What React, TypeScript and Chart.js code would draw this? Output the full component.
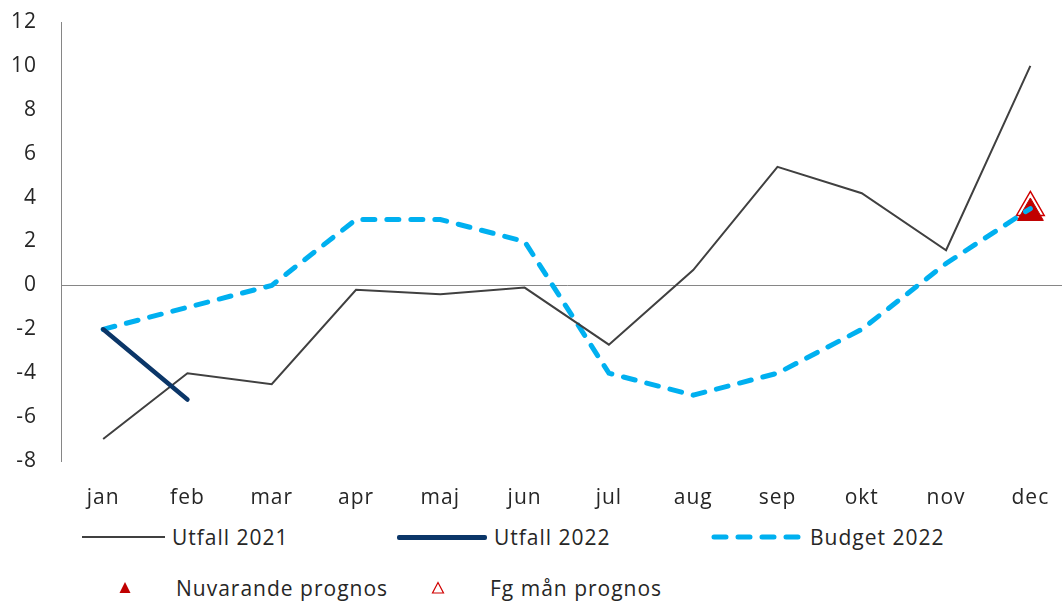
import React, { useEffect, useRef } from "react";
import { Chart, registerables } from "chart.js";

Chart.register(...registerables);

const months = ["jan", "feb", "mar", "apr", "maj", "jun", "jul", "aug", "sep", "okt", "nov", "dec"];
const utfall2021 = [-7, -4, -4.5, -0.2, -0.4, -0.1, -2.7, 0.7, 5.4, 4.2, 1.6, 10];
const utfall2022 = [-2, -5.2, null, null, null, null, null, null, null, null, null, null];
const budget2022 = [-2, -1, 0, 3, 3, 2, -4, -5, -4, -2, 1, 3.5];
const nuvarandePrognos = [null, null, null, null, null, null, null, null, null, null, null, 3.3];
const fgManPrognos = [null, null, null, null, null, null, null, null, null, null, null, 3.55];
const yMin = -8;
const yMax = 12;
const yStep = 2;

const FONT = "'Open Sans', Lato, sans-serif";
const FSIZE = 21;
const LSP = "1px";
const TEXT = "#262626";
const AXIS = "#868686";

const spacingPlugin = {
  id: "letterSpacing",
  beforeInit(chart: any) {
    chart.ctx.letterSpacing = LSP;
  },
  beforeUpdate(chart: any) {
    chart.ctx.letterSpacing = LSP;
  },
  beforeDraw(chart: any) {
    chart.ctx.letterSpacing = LSP;
  },
};

export default function App() {
  const ref = useRef<HTMLCanvasElement | null>(null);

  useEffect(() => {
    if (!ref.current) return;
    const chart = new Chart(ref.current, {
      type: "line",
      plugins: [spacingPlugin],
      data: {
        labels: months,
        datasets: [
          {
            label: "Fg mån prognos",
            data: fgManPrognos,
            showLine: false,
            pointStyle: "triangle",
            pointRadius: 16,
            pointBackgroundColor: "#ffffff",
            pointBorderColor: "#d00000",
            pointBorderWidth: 1.5,
            order: 5,
          },
          {
            label: "Nuvarande prognos",
            data: nuvarandePrognos,
            showLine: false,
            pointStyle: "triangle",
            pointRadius: 15,
            pointBackgroundColor: "#c00000",
            pointBorderColor: "#c00000",
            pointBorderWidth: 1,
            order: 4,
          },
          {
            label: "Budget 2022",
            data: budget2022,
            borderColor: "#00b0f0",
            borderWidth: 5,
            borderDash: [12, 12],
            borderCapStyle: "round",
            pointRadius: 0,
            tension: 0,
            order: 3,
          },
          {
            label: "Utfall 2021",
            data: utfall2021,
            borderColor: "#404040",
            borderWidth: 2,
            pointRadius: 0,
            tension: 0,
            order: 2,
          },
          {
            label: "Utfall 2022",
            data: utfall2022,
            borderColor: "#0b3668",
            borderWidth: 4.5,
            borderCapStyle: "round",
            pointRadius: 0,
            tension: 0,
            spanGaps: false,
            order: 1,
          },
        ],
      },
      options: {
        responsive: false,
        animation: false,
        layout: { padding: { top: 22, left: 0, right: 0, bottom: 0 } },
        plugins: { legend: { display: false }, tooltip: { enabled: false } },
        scales: {
          x: {
            offset: true,
            grid: { display: false, drawTicks: false },
            border: { display: false },
            ticks: { color: TEXT, font: { family: FONT, size: FSIZE }, padding: 24, maxRotation: 0 },
            afterFit: (s: any) => {
              s.height = 59;
            },
          },
          y: {
            min: yMin,
            max: yMax,
            ticks: { stepSize: yStep, color: TEXT, font: { family: FONT, size: FSIZE }, padding: 24 },
            grid: {
              drawTicks: false,
              color: (ctx: any) => (ctx.tick && ctx.tick.value === 0 ? AXIS : "rgba(0,0,0,0)"),
              lineWidth: 1,
            },
            border: { display: true, color: AXIS, width: 1 },
            afterFit: (s: any) => {
              s.width = 61;
              s.paddingTop = 0;
              s.paddingBottom = 0;
            },
          },
        },
      },
    });
    return () => chart.destroy();
  }, []);

  const txt: React.CSSProperties = {
    position: "absolute",
    fontFamily: FONT,
    fontSize: FSIZE,
    letterSpacing: LSP,
    color: TEXT,
    lineHeight: "24px",
    whiteSpace: "nowrap",
  };
  const row1 = 537;
  const row2 = 588;

  return (
    <div style={{ position: "fixed", left: 0, top: 0, width: 1062, height: 603, overflow: "hidden", background: "#fff" }}>
      <canvas ref={ref} width={1090} height={520} style={{ position: "absolute", left: 0, top: 0, width: 1090, height: 520 }} />
      <div style={{ position: "absolute", left: 82, top: row1 - 1, width: 83, height: 2, background: "#404040" }} />
      <div style={{ ...txt, left: 172, top: row1 - 12 }}>Utfall 2021</div>
      <div style={{ position: "absolute", left: 397, top: row1 - 2, width: 90, height: 5, background: "#0b3668", borderRadius: 2 }} />
      <div style={{ ...txt, left: 494, top: row1 - 12 }}>Utfall 2022</div>
      <svg style={{ position: "absolute", left: 708, top: row1 - 5 }} width={100} height={10}>
        <line x1={6} y1={5} x2={95} y2={5} stroke="#00b0f0" strokeWidth={5} strokeDasharray="12 12" strokeLinecap="round" />
      </svg>
      <div style={{ ...txt, left: 810, top: row1 - 12 }}>Budget 2022</div>
      <svg style={{ position: "absolute", left: 118, top: row2 - 7 }} width={14} height={14}>
        <polygon points="7,1 12.5,12 1.5,12" fill="#c00000" />
      </svg>
      <div style={{ ...txt, left: 176, top: row2 - 12 }}>Nuvarande prognos</div>
      <svg style={{ position: "absolute", left: 431, top: row2 - 7 }} width={14} height={14}>
        <polygon points="7,1.5 12.5,12 1.5,12" fill="#fff" stroke="#d00000" strokeWidth={1.2} />
      </svg>
      <div style={{ ...txt, left: 490, top: row2 - 12 }}>Fg mån prognos</div>
    </div>
  );
}
